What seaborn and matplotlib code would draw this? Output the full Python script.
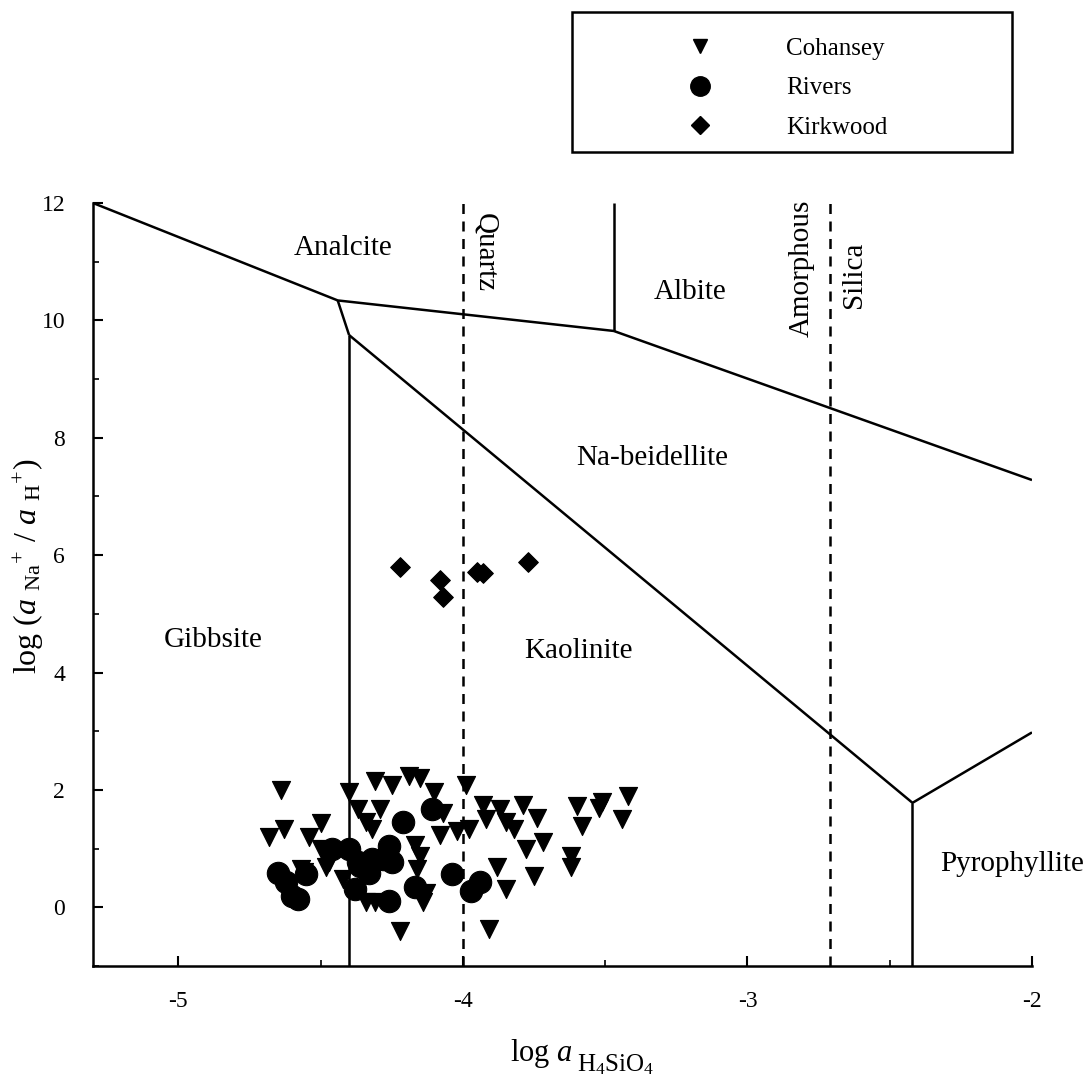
import numpy as np
import pandas as pd
import seaborn as sns
import matplotlib
matplotlib.use("Agg")
import matplotlib.pyplot as plt
from matplotlib.lines import Line2D
from matplotlib.patches import Rectangle
from matplotlib.ticker import MultipleLocator

# ---------------- data ----------------
cohansey_x = [-4.64, -4.40, -4.31, -4.25, -4.19, -4.15, -4.10, -3.99, -4.37, -4.29,
              -4.34, -4.32, -4.07, -4.63, -4.68, -4.50, -4.54, -4.50, -4.47, -4.08,
              -4.02, -3.98, -4.17, -4.15, -4.16, -4.42, -4.57, -4.34, -4.31, -4.14,
              -4.22, -3.91, -3.93, -3.87, -3.92, -3.85, -3.79, -3.74, -3.82, -3.78,
              -3.72, -3.88, -3.75, -3.85, -3.42, -3.44, -3.60, -3.58, -3.52, -3.51,
              -3.62, -3.62, -4.13, -4.48, -4.56]
cohansey_y = [2.00, 1.96, 2.15, 2.09, 2.23, 2.21, 1.97, 2.09, 1.67, 1.67,
              1.46, 1.33, 1.60, 1.33, 1.19, 1.44, 1.19, 0.99, 0.78, 1.24,
              1.30, 1.33, 1.07, 0.87, 0.65, 0.48, 0.65, 0.09, 0.09, 0.09,
              -0.41, -0.37, 1.75, 1.67, 1.50, 1.46, 1.75, 1.53, 1.33, 0.99,
              1.12, 0.68, 0.53, 0.31, 1.89, 1.50, 1.72, 1.38, 1.70, 1.79,
              0.87, 0.68, 0.25, 0.68, 0.61]

rivers_x = [-4.65, -4.62, -4.58, -4.60, -4.55, -4.46, -4.40, -4.38, -4.32, -4.33,
            -4.26, -4.25, -4.21, -4.26, -4.11, -4.17, -4.04, -3.97, -3.94, -4.36,
            -4.28, -4.37]
rivers_y = [0.59, 0.43, 0.14, 0.20, 0.56, 0.99, 0.99, 0.31, 0.82, 0.59,
            1.04, 0.77, 1.45, 0.10, 1.67, 0.34, 0.56, 0.27, 0.43, 0.70,
            0.82, 0.77]

kirkwood_x = [-4.22, -4.08, -4.07, -3.95, -3.93, -3.77]
kirkwood_y = [5.79, 5.58, 5.29, 5.72, 5.70, 5.89]

# phase boundaries (x, y)
analcite_x = [-5.3, -4.44, -3.47, -2.0]
analcite_y = [12.0, 10.34, 9.82, 7.28]
albite_x = [-3.47, -3.47]
albite_y = [9.82, 12.0]
kink_x = [-4.44, -4.40]
kink_y = [10.34, 9.75]
kaolinite_x = [-4.40, -2.42, -2.0]
kaolinite_y = [9.75, 1.78, 2.98]
gibbsite_x = [-4.40, -4.40]
gibbsite_y = [9.75, -1.0]
pyro_x = [-2.42, -2.42]
pyro_y = [1.78, -1.0]
quartz_x = -4.0
amorph_x = -2.71

xticks = [-5, -4, -3, -2]
yticks = [0, 2, 4, 6, 8, 10, 12]

# ---------------- style ----------------
sns.set_theme(style="ticks")
plt.rcParams['font.family'] = ['Liberation Serif', 'DejaVu Serif']
plt.rcParams['mathtext.fontset'] = 'custom'
plt.rcParams['mathtext.rm'] = 'Liberation Serif'
plt.rcParams['mathtext.it'] = 'Liberation Serif:italic'
plt.rcParams['text.color'] = 'black'
plt.rcParams['axes.labelcolor'] = 'black'

fig = plt.figure(figsize=(10.87, 10.82), dpi=100)
ax = fig.add_axes([93/1087, 1-966/1082, (1032-93)/1087, (966-203)/1082])

df = pd.concat([
    pd.DataFrame({'x': cohansey_x, 'y': cohansey_y, 'group': 'Cohansey'}),
    pd.DataFrame({'x': rivers_x, 'y': rivers_y, 'group': 'Rivers'}),
    pd.DataFrame({'x': kirkwood_x, 'y': kirkwood_y, 'group': 'Kirkwood'}),
], ignore_index=True)

marker_map = {'Cohansey': 'v', 'Rivers': 'o', 'Kirkwood': 'D'}
size_map = {'Cohansey': 170, 'Rivers': 260, 'Kirkwood': 100}
for g in ['Rivers', 'Cohansey', 'Kirkwood']:
    sns.scatterplot(data=df[df.group == g], x='x', y='y', marker=marker_map[g],
                    s=size_map[g], color='black', edgecolor='black', linewidth=0.8,
                    ax=ax, legend=False, zorder=3)

lw = 1.8
for xs, ys in [(analcite_x, analcite_y), (albite_x, albite_y), (kink_x, kink_y),
               (kaolinite_x, kaolinite_y), (gibbsite_x, gibbsite_y), (pyro_x, pyro_y)]:
    ax.plot(xs, ys, color='black', lw=lw, solid_capstyle='butt', zorder=2)
ax.axvline(quartz_x, color='black', lw=1.8, ls=(0, (4, 3)), zorder=2)
ax.axvline(amorph_x, color='black', lw=1.8, ls=(0, (4, 3)), zorder=2)

ax.set_xlim(-5.3, -2.0)
ax.set_ylim(-1.0, 12.0)
ax.set_xticks(xticks)
ax.set_xticklabels([str(t) for t in xticks])
ax.set_yticks(yticks)
ax.set_yticklabels([str(t) for t in yticks])
ax.xaxis.set_minor_locator(MultipleLocator(0.5))
ax.yaxis.set_minor_locator(MultipleLocator(1))
ax.tick_params(which='major', direction='in', length=7, width=1.5, labelsize=17,
               colors='black', pad=20)
ax.tick_params(which='minor', direction='in', length=4, width=1.2, colors='black')
ax.tick_params(axis='x', which='major', pad=18)

sns.despine(ax=ax, top=True, right=True)
for sp in ['left', 'bottom']:
    ax.spines[sp].set_linewidth(1.8)
    ax.spines[sp].set_color('black')

# x label: "log a" plus a larger-than-default subscript
ax.set_xlabel(r'log $\mathit{a}$', fontsize=22)
ax.xaxis.set_label_coords((541 - 93) / 939, -(1037 - 966) / 763)
fig.text(577/1087, 1-1071/1082, r'H$_4$SiO$_4$', fontsize=18, ha='left', va='baseline')

ax.set_ylabel(r'log ($\mathit{a}$ $_{\mathrm{Na}}$$^{+}$ / $\mathit{a}$ $_{\mathrm{H}}$$^{+}$)',
              fontsize=23)
ax.yaxis.set_label_coords(-(93 - 46) / 939, (966 - 566) / 763)

tfs = 21
ax.text(-4.42, 11.23, 'Analcite', fontsize=tfs, ha='center', va='center')
ax.text(-3.92, 11.15, 'Quartz', fontsize=tfs, ha='center', va='center', rotation=270)
ax.text(-3.20, 10.49, 'Albite', fontsize=tfs, ha='center', va='center')
ax.text(-2.81, 10.88, 'Amorphous', fontsize=tfs, ha='center', va='center', rotation=90)
ax.text(-2.625, 10.77, 'Silica', fontsize=tfs, ha='center', va='center', rotation=90)
ax.text(-3.335, 7.66, 'Na-beidellite', fontsize=tfs, ha='center', va='center')
ax.text(-4.877, 4.56, 'Gibbsite', fontsize=tfs, ha='center', va='center')
ax.text(-3.595, 4.36, 'Kaolinite', fontsize=tfs, ha='center', va='center')
ax.text(-2.07, 0.73, 'Pyrophyllite', fontsize=tfs, ha='center', va='center')

# legend box
fig.patches.append(Rectangle((572/1087, 1-152/1082), (1012-572)/1087, (152-12)/1082,
                             transform=fig.transFigure, fill=False, edgecolor='black',
                             lw=1.8, zorder=5))
handles = [Line2D([], [], ls='none', marker='v', color='black', markersize=10),
           Line2D([], [], ls='none', marker='o', color='black', markersize=14),
           Line2D([], [], ls='none', marker='D', color='black', markersize=9)]
fig.legend(handles, ['Cohansey', 'Rivers', 'Kirkwood'], loc='upper left',
           bbox_to_anchor=(681/1087, 1-37/1082), frameon=False, fontsize=18,
           handlelength=1.5, handletextpad=2.7, labelspacing=0.69,
           borderpad=0, borderaxespad=0)

fig.savefig('out.png', dpi=100, facecolor='white')
